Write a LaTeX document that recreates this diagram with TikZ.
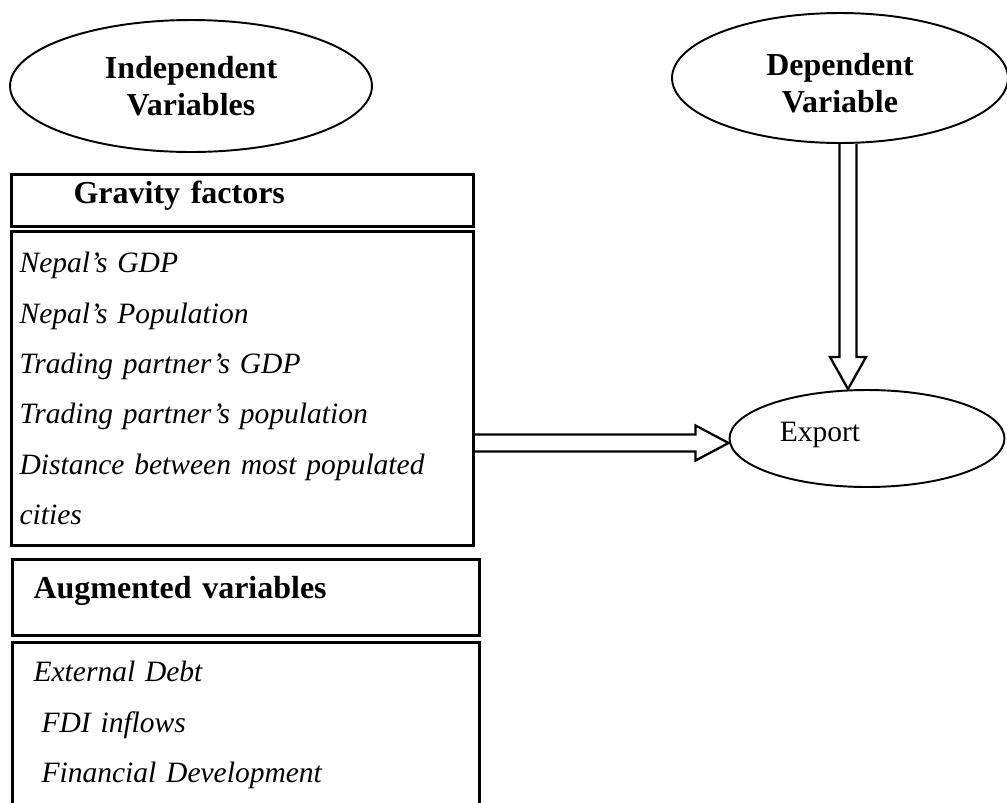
\documentclass[tikz,border=0pt]{standalone}
\usepackage{fontspec}
\setmainfont{Liberation Serif}
\usetikzlibrary{shapes.geometric,calc}

\tikzset{
  oval/.style={ellipse,draw,line width=1.1pt,inner sep=0pt,align=center},
  headbox/.style={rectangle,draw,line width=1.8pt,anchor=north west,inner sep=0pt,align=left,font=\fontsize{18.2}{21}\selectfont\bfseries},
  listbox/.style={rectangle,draw,line width=1.8pt,anchor=north west,inner sep=0pt,align=left,font=\fontsize{16.8}{28.7}\selectfont\itshape},
  hollow/.style={line width=1.3pt,line join=miter}
}

\begin{document}
\begin{tikzpicture}[x=0.02cm,y=-0.02cm]
            \useasboundingbox (0,0) rectangle (1007,802);
            \clip (0,0) rectangle (1007,802);
            \node[oval,minimum width=7.24cm,minimum height=2.64cm,font=\fontsize{18.2}{21}\selectfont\bfseries] (indep) at (191,86) {Independent\\Variables};
            \node[oval,minimum width=6.72cm,minimum height=2.6cm,font=\fontsize{18.2}{21}\selectfont\bfseries,text height=1.36cm,text depth=0pt] (depvar) at (840,78) {Dependent\\Variable};
            \node[oval,minimum width=5.5cm,minimum height=1.94cm,font=\fontsize{16.8}{20}\selectfont,text height=0.4cm,text depth=0.29cm] (export) at (867,438.5) {Export\hspace*{1.88cm}};
            \node[headbox,minimum width=9.24cm,minimum height=1.04cm,text width=9.24cm,text height=0.44cm,text depth=0.32cm] (grav) at (10,173) {\hspace*{1.24cm}Gravity factors};
            \node[listbox,minimum width=9.24cm,minimum height=6.28cm,text width=9.24cm] (gravlist) at (10,230)
              {\hspace*{0.16cm}Nepal’s GDP\\
               \hspace*{0.16cm}Nepal’s Population\\
               \hspace*{0.16cm}Trading partner’s GDP\\
               \hspace*{0.16cm}Trading partner’s population\\
               \hspace*{0.16cm}Distance between most populated\\
               \hspace*{0.16cm}cities};
            \node[headbox,minimum width=9.34cm,minimum height=1.52cm,text width=9.34cm,text height=0.44cm,text depth=0.4cm] (aug) at (11,558) {\hspace*{0.42cm}Augmented variables};
            \node[listbox,minimum width=9.34cm,minimum height=3.3cm,text width=9.34cm] (auglist) at (11,641)
              {\hspace*{0.42cm}External Debt\\
               \hspace*{0.58cm}FDI inflows\\
               \hspace*{0.58cm}Financial Development};
            \coordinate (tip) at ($(export.north)+(-19,0)$);
            \coordinate (head) at ($(export.west)+(0,4.5)$);
            \draw[hollow] ($(tip |- depvar.south)+(-8.5,0)$) -- ($(tip)+(-8.5,-32)$) -- ++(-9.5,0) -- (tip) -- ++(18,-32) -- ++(-9.5,0) -- ($(tip |- depvar.south)+(8.5,0)$);
            \draw[hollow] ($(gravlist.east |- head)+(0,-8.5)$) -- ($(head)+(-33,-8.5)$) -- ++(0,-9) -- (head) -- ++(-33,17.5) -- ++(0,-9) -- ($(gravlist.east |- head)+(0,8.5)$);
        \end{tikzpicture}
\end{document}
